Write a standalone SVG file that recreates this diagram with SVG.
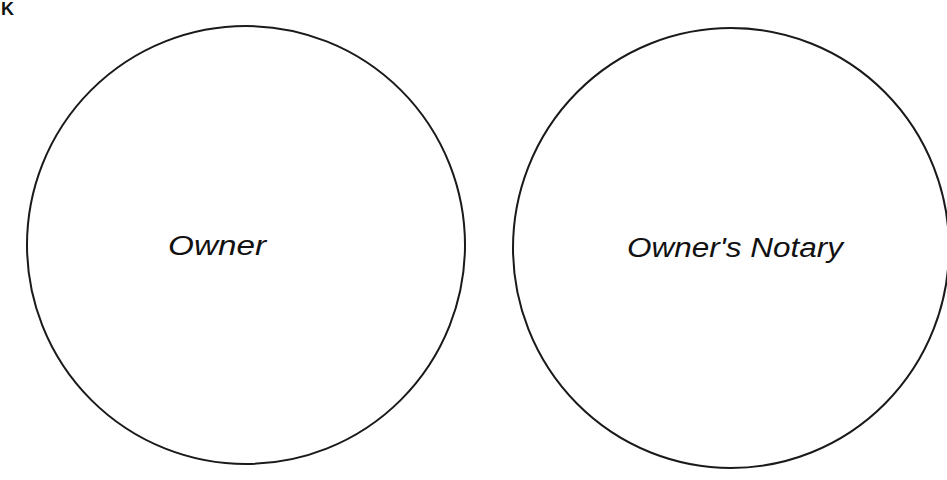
<svg xmlns="http://www.w3.org/2000/svg" width="947" height="480" viewBox="0 0 947 480">
<style>
.c{fill:none;stroke:#1a1a1a;stroke-width:2}
.t{font-family:"Liberation Sans",Arial,sans-serif;font-style:italic;font-size:27px;fill:#111}
.k{font-family:"Liberation Sans",Arial,sans-serif;font-weight:bold;font-size:18px;fill:#111}
</style>
<rect width="947" height="480" fill="#fff"/>
<text class="k" x="1" y="15">K</text>
<g id="owner">
<ellipse class="c" cx="246" cy="245" rx="219" ry="219"/>
<text class="t" x="168" y="255" textLength="98" lengthAdjust="spacingAndGlyphs">Owner</text>
</g>
<g id="owners-notary">
<ellipse class="c" cx="731" cy="248" rx="218" ry="220"/>
<text class="t" x="627" y="257" textLength="216" lengthAdjust="spacingAndGlyphs">Owner's Notary</text>
</g>
<g id="connectors"/>
</svg>
